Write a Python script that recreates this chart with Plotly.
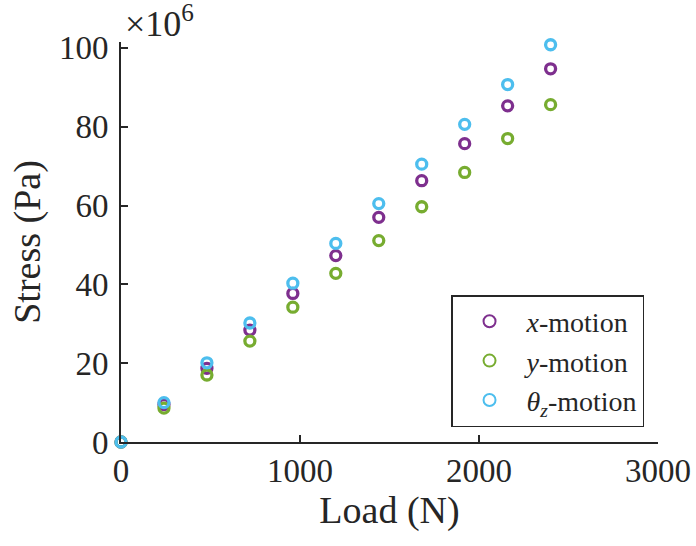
import plotly.graph_objects as go

load_n = [0, 240, 480, 720, 960, 1200, 1440, 1680, 1920, 2160, 2400]
x_motion = [0, 9.5, 18.7, 28.4, 37.7, 47.3, 57.0, 66.3, 75.7, 85.3, 94.7]
y_motion = [0, 8.6, 17.0, 25.6, 34.2, 42.8, 51.1, 59.7, 68.4, 77.0, 85.6]
tz_motion = [0, 10.0, 20.1, 30.2, 40.3, 50.4, 60.5, 70.5, 80.6, 90.7, 100.8]
series_names = ["<i>x</i>-motion", "<i>y</i>-motion", "<i>θ</i><sub><i>z</i></sub>-motion"]
colors = ["#7E2F8E", "#77AC30", "#4DBEEE"]
x_ticks = [0, 1000, 2000, 3000]
y_ticks = [0, 20, 40, 60, 80, 100]

FONT = "Liberation Serif"
AX = "#262626"

fig = go.Figure()
for name, vals, col in zip(series_names, [x_motion, y_motion, tz_motion], colors):
    fig.add_trace(go.Scatter(
        x=load_n, y=vals, mode="markers", name=name, cliponaxis=False,
        marker=dict(symbol="circle-open", size=10, color=col, line=dict(width=3.3, color=col)),
    ))

fig.update_layout(
    width=696, height=546,
    margin=dict(l=121, r=38, t=42, b=104),
    paper_bgcolor="white", plot_bgcolor="white",
    font=dict(family=FONT, color=AX, size=32),
    showlegend=True,
    legend=dict(
        x=0.974, y=0.0375, xanchor="right", yanchor="bottom",
        bgcolor="white", bordercolor=AX, borderwidth=1.5,
        font=dict(family=FONT, size=28, color=AX),
        itemsizing="constant", tracegroupgap=0, itemwidth=64,
    ),
    xaxis=dict(
        range=[0, 3000], tickvals=x_ticks, ticktext=[str(v) for v in x_ticks],
        showline=True, linecolor=AX, linewidth=2, mirror=False,
        ticks="inside", ticklen=7, tickwidth=2, tickcolor=AX,
        showgrid=False, zeroline=False, automargin=False, ticklabelstandoff=-2,
        tickfont=dict(family=FONT, size=33, color=AX),
        title=dict(text="Load (N)", font=dict(family=FONT, size=38, color=AX), standoff=2),
    ),
    yaxis=dict(
        range=[0, 101.5], tickvals=y_ticks, ticktext=[str(v) for v in y_ticks],
        showline=True, linecolor=AX, linewidth=2, mirror=False,
        ticks="inside", ticklen=7, tickwidth=2, tickcolor=AX,
        showgrid=False, zeroline=False, automargin=False, ticklabelstandoff=4,
        tickfont=dict(family=FONT, size=33, color=AX),
        title=dict(text="Stress (Pa)", font=dict(family=FONT, size=38, color=AX), standoff=7),
    ),
    annotations=[dict(
        text="×10<sup>6</sup>", xref="paper", yref="paper", x=0.004, y=0.99,
        xanchor="left", yanchor="bottom", showarrow=False,
        font=dict(family=FONT, size=36, color=AX),
    )],
)

# remove the page's default 8px body margin so the figure fills the window exactly
fig.write_html(
    "out.html",
    config={"displayModeBar": False},
    post_script="document.body.style.margin='0';document.body.style.overflow='hidden';",
)
